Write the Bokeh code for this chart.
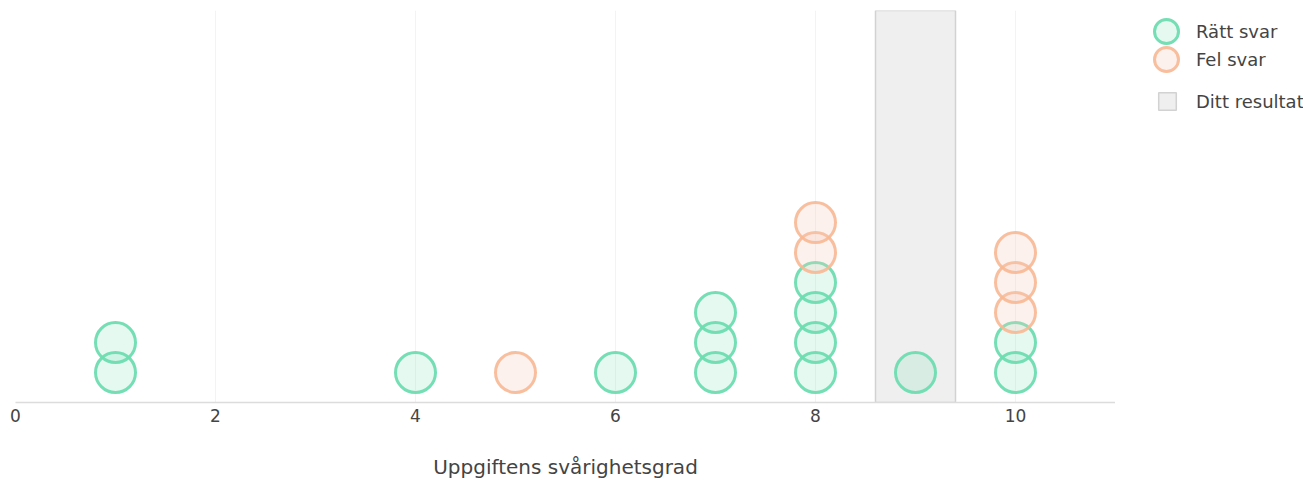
from bokeh.plotting import figure
from bokeh.layouts import row
from bokeh.models import ColumnDataSource, Legend, LegendItem, FixedTicker, Range1d
from bokeh.embed import file_html
from bokeh.resources import INLINE

# Data
correct_x = [1, 1, 4, 6, 7, 7, 7, 8, 8, 8, 8, 9, 10, 10]
correct_y = [1, 2, 1, 1, 1, 2, 3, 1, 2, 3, 4, 1, 1, 2]
wrong_x = [5, 8, 8, 10, 10, 10]
wrong_y = [1, 5, 6, 3, 4, 5]
result_left = [8.6]
result_right = [9.4]
x_ticks = [0, 2, 4, 6, 8, 10]
labels = ["Rätt svar", "Fel svar", "Ditt resultat"]
x_title = "Uppgiftens svårighetsgrad"

FONT = "DejaVu Sans"
GREEN = "#6edcb0"
ORANGE = "#f7b894"
ORANGE_FILL = "#f3c6b6"
TEXT = "#444444"
Y_TOP = 13.07

green_style = dict(size=40, fill_color=GREEN, fill_alpha=0.18,
                   line_color=GREEN, line_width=3, line_alpha=0.95)
orange_style = dict(size=40, fill_color=ORANGE_FILL, fill_alpha=0.25,
                    line_color=ORANGE, line_width=3, line_alpha=0.9)
rect_style = dict(fill_color="#efefef", line_color="#d2d2d2", line_width=1.5)

p = figure(width=1115, height=481, output_backend="svg", toolbar_location=None,
           x_range=Range1d(0, 11), y_range=Range1d(0, Y_TOP),
           min_border_left=15, min_border_top=10, min_border_right=0, min_border_bottom=0)
p.outline_line_color = None
p.background_fill_color = "white"
p.border_fill_color = "white"

res_src = ColumnDataSource(dict(left=result_left, right=result_right,
                                bottom=[0] * len(result_left), top=[Y_TOP] * len(result_left)))
p.quad(left="left", right="right", bottom="bottom", top="top", source=res_src, **rect_style)

c_src = ColumnDataSource(dict(x=correct_x, y=correct_y))
w_src = ColumnDataSource(dict(x=wrong_x, y=wrong_y))
p.scatter("x", "y", source=c_src, **green_style)
p.scatter("x", "y", source=w_src, **orange_style)

p.yaxis.visible = False
p.ygrid.visible = False
p.xgrid.ticker = FixedTicker(ticks=x_ticks)
p.xgrid.grid_line_color = "#f3f3f3"
p.xgrid.grid_line_width = 1

ax = p.xaxis[0]
ax.ticker = FixedTicker(ticks=x_ticks)
ax.axis_line_color = "#dcdcdc"
ax.axis_line_width = 1.5
ax.major_tick_line_color = None
ax.minor_tick_line_color = None
ax.major_tick_out = 0
ax.major_tick_in = 0
ax.minor_tick_out = 0
ax.minor_tick_in = 0
ax.major_label_text_font = FONT
ax.major_label_text_font_size = "17px"
ax.major_label_text_color = TEXT
ax.major_label_standoff = 6
ax.axis_label = x_title
ax.axis_label_text_font = FONT
ax.axis_label_text_font_style = "normal"
ax.axis_label_text_font_size = "20px"
ax.axis_label_text_color = TEXT
ax.axis_label_standoff = 30

# Legend panel: a separate figure to the right whose frame aligns with the main frame.
# Its ranges lie outside the data, so its renderers only show up in the legends.
pl = figure(width=188, height=481, output_backend="svg", toolbar_location=None,
            x_axis_location=None, y_axis_location=None,
            x_range=Range1d(-3, -2), y_range=Range1d(-3, -2),
            min_border_left=0, min_border_top=0, min_border_right=0, min_border_bottom=0)
pl.outline_line_color = None
pl.xgrid.visible = False
pl.ygrid.visible = False
lg_c = pl.scatter("x", "y", source=c_src, **green_style)
lg_w = pl.scatter("x", "y", source=w_src, **orange_style)
lg_r = pl.quad(left="left", right="right", bottom="bottom", top="top", source=res_src, **rect_style)

common = dict(spacing=0, padding=0, margin=0, border_line_color=None,
              background_fill_alpha=0, label_text_font=FONT, label_text_font_size="18px",
              label_text_color=TEXT)
leg_a = Legend(items=[LegendItem(label=labels[0], renderers=[lg_c])],
               location=(21, 341), glyph_width=60, glyph_height=60, label_standoff=0, **common)
leg_b = Legend(items=[LegendItem(label=labels[1], renderers=[lg_w])],
               location=(21, 313), glyph_width=60, glyph_height=60, label_standoff=0, **common)
leg_c = Legend(items=[LegendItem(label=labels[2], renderers=[lg_r])],
               location=(41, 290), glyph_width=22, glyph_height=22, label_standoff=18, **common)
pl.add_layout(leg_a, "center")
pl.add_layout(leg_b, "center")
pl.add_layout(leg_c, "center")

layout = row(p, pl, spacing=0)
open("out.html", "w").write(file_html(layout, INLINE))
